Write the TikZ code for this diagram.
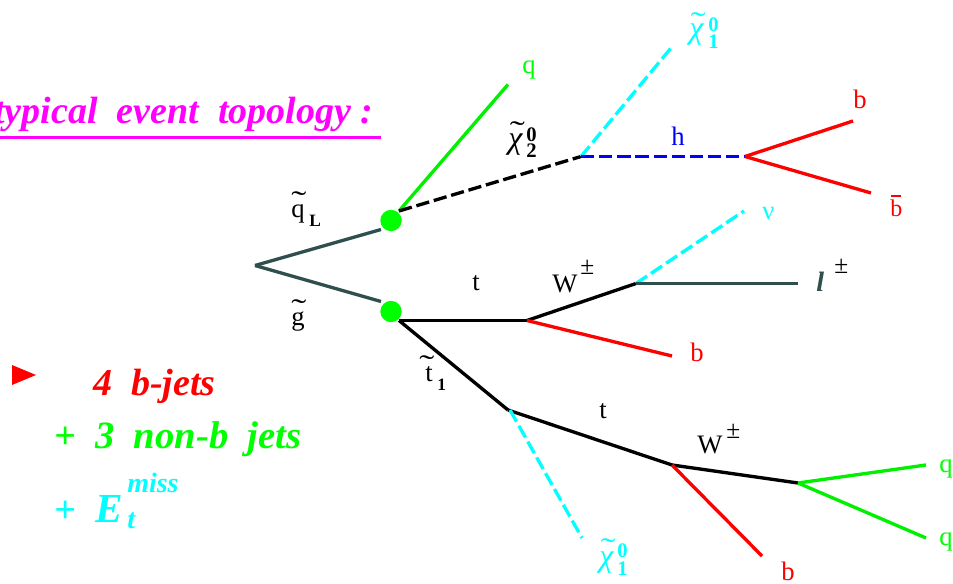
\documentclass[tikz,border=0pt]{standalone}
\usepackage{graphicx}
\usepackage{fontspec}
\setmainfont{Liberation Serif}
\definecolor{slateline}{RGB}{47,79,79}
\definecolor{jetgreen}{RGB}{0,240,0}
\definecolor{txtgreen}{RGB}{0,255,0}
\definecolor{txtcyan}{RGB}{0,255,255}
\definecolor{txtmagenta}{RGB}{255,0,255}
\definecolor{txtred}{RGB}{255,0,0}
\definecolor{txtblue}{RGB}{0,0,255}
\newcommand{\fsz}[1]{\fontsize{#1}{#1}\selectfont}
% tilde over a glyph: raise, horizontal offset, glyph
\newcommand{\tldover}[3]{\makebox[0pt][l]{\hspace*{#2}\raisebox{#1}{\fsz{20pt}\scalebox{1.7}[1.1]{\char"02DC}}}#3}
\newcommand{\chiglyph}{\fsz{24pt}\itshape\char"03C7}
\newcommand{\pmglyph}{\fsz{19pt}\char"00B1}
\tikzset{
  x=0.75pt,y=-0.75pt,
  line/.style={line width=2.5pt},
  dashline/.style={line width=2.5pt,dash pattern=on 10pt off 3.6pt},
  vtx/.style={circle,fill=txtgreen,inner sep=0pt,minimum size=16pt},
  lab/.style={anchor=base west,inner sep=0pt,font=\fsz{20pt}},
  subl/.style={anchor=base west,inner sep=0pt,font=\fsz{15.5pt}\bfseries},
  big/.style={anchor=base west,inner sep=0pt,font=\fsz{28.5pt}\bfseries\itshape},
  mid/.style={anchor=base west,inner sep=0pt,font=\fsz{21pt}\bfseries\itshape}
}
\begin{document}
\begin{tikzpicture}
\useasboundingbox (0,0) rectangle (953,584);
% coordinates
\coordinate (A) at (255,265.5);
\coordinate (Aup) at (381,229.5);
\coordinate (Adn) at (381,301.5);
\coordinate (V1) at (399,211);
\coordinate (V2) at (399,320.5);
\coordinate (qend) at (508,84.5);
\coordinate (chi2) at (581,156.5);
\coordinate (chi1end) at (671,48);
\coordinate (h) at (745,156.5);
\coordinate (b1) at (853,121);
\coordinate (b2) at (871,193);
\coordinate (t1) at (527,320.5);
\coordinate (W1) at (636,283.5);
\coordinate (nu) at (744,211);
\coordinate (lep) at (798,283.5);
\coordinate (b3) at (672,356);
\coordinate (st) at (508,410);
\coordinate (t2) at (672,465);
\coordinate (W2) at (798,483);
\coordinate (q1) at (926,465);
\coordinate (q2) at (926,538);
\coordinate (b4) at (762,556);
\coordinate (stx) at (510,410);
\coordinate (chi3end) at (582,538);
\coordinate (ulA) at (0,138);
\coordinate (ulB) at (381,138);
% lines
\draw[line,slateline] (A) -- (Aup);
\draw[line,slateline] (A) -- (Adn);
\draw[line,jetgreen] (V1) -- (qend);
\draw[dashline,black] (V1) -- (chi2);
\draw[dashline,txtcyan] (chi2) -- (chi1end);
\draw[dashline,txtblue] (chi2) -- (h);
\draw[line,txtred] (h) -- (b1);
\draw[line,txtred] (h) -- (b2);
\draw[line,black] (V2) -- (t1);
\draw[line,black] (t1) -- (W1);
\draw[dashline,txtcyan] (W1) -- (nu);
\draw[line,slateline] (W1) -- (lep);
\draw[line,txtred] (t1) -- (b3);
\draw[line,black] (V2) -- (st);
\draw[line,black] (st) -- (t2);
\draw[line,black] (t2) -- (W2);
\draw[line,jetgreen] (W2) -- (q1);
\draw[line,jetgreen] (W2) -- (q2);
\draw[line,txtred] (t2) -- (b4);
\draw[dashline,txtcyan] (stx) -- (chi3end);
\draw[line width=2.25pt,txtmagenta] (ulA) -- (ulB);
% vertices
\node[vtx] (dot1) at (391,220.5) {};
\node[vtx] (dot2) at (391,311.5) {};
\fill[txtred] (12,365) -- (36,375) -- (12,385) -- cycle;
% particle labels
\node[lab] (lq) at (291,218) {\tldover{5pt}{0pt}{q}};
\node[lab,font=\fsz{13pt}\bfseries] (lL) at (309,227) {L};
\node[lab] (lg) at (291,326) {\tldover{5pt}{0pt}{g}};
\node[lab] (lst) at (425,382) {\tldover{5pt}{-4.5pt}{t}};
\node[lab,font=\fsz{13pt}\bfseries] (lst1) at (437,391) {1};
\node[lab,txtgreen] (lq0) at (522,74) {q};
\node[lab] (lchi2) at (508,148.5) {\tldover{4.9pt}{1.2pt}{\chiglyph}};
\node[subl] (lchi2a) at (526,142) {0};
\node[subl] (lchi2b) at (526,158) {2};
\node[lab,txtcyan] (lchi1) at (689,39) {\tldover{4.9pt}{1pt}{\chiglyph}};
\node[subl,txtcyan] (lchi1a) at (708,32) {0};
\node[subl,txtcyan] (lchi1b) at (708,49) {1};
\node[lab,txtblue] (lh) at (671,146) {h};
\node[lab,txtred] (lb1) at (853,109) {b};
\node[lab,txtred,font=\fsz{18pt}] (lb2) at (890,217) {\makebox[0pt][l]{\hspace*{0.5pt}\raisebox{15.2pt}{\rule{7.5pt}{1pt}}}b};
\node[lab,txtcyan] (lnu) at (762,220) {\char"03BD};
\node[lab] (lt1) at (472,291) {t};
\node[lab] (lW1) at (552,293) {W};
\node[lab] (lpm1) at (580,275) {\pmglyph};
\node[lab,font=\fsz{21pt}\bfseries\itshape,slateline] (ll) at (816,292) {l};
\node[lab] (lpm2) at (834,274) {\pmglyph};
\node[lab,txtred] (lb3) at (690,362) {b};
\node[lab] (lt2) at (599,418) {t};
\node[lab] (lW2) at (697,453) {W};
\node[lab] (lpm3) at (726,438) {\pmglyph};
\node[lab,txtred] (lb4) at (781,580) {b};
\node[lab,txtgreen] (lq1) at (939,472) {q};
\node[lab,txtgreen] (lq2) at (939,545) {q};
\node[lab,txtcyan] (lchi3) at (599,566) {\tldover{6pt}{1pt}{\chiglyph}};
\node[subl,txtcyan] (lchi3a) at (617,557) {0};
\node[subl,txtcyan] (lchi3b) at (617,575) {1};
% text
\node[big,txtmagenta] (title) at (-6,123.5) {typical\ \ event\ \ topology :};
\node[big,txtred] (t4b) at (93,395.5) {4\ \ b-jets};
\node[big,txtgreen] (plus1) at (54,449) {+};
\node[big,txtgreen,font=\fsz{29pt}\bfseries\itshape] (t3) at (95,449) {3\ \ non-b\ \ jets};
\node[big,txtcyan] (plus2) at (54,522) {+};
\node[big,txtcyan,font=\fsz{31pt}\bfseries\itshape] (tE) at (95,522) {E};
\node[mid,txtcyan] (tmiss) at (127,492) {miss};
\node[mid,txtcyan] (tt) at (127,528) {t};
\end{tikzpicture}
\end{document}
